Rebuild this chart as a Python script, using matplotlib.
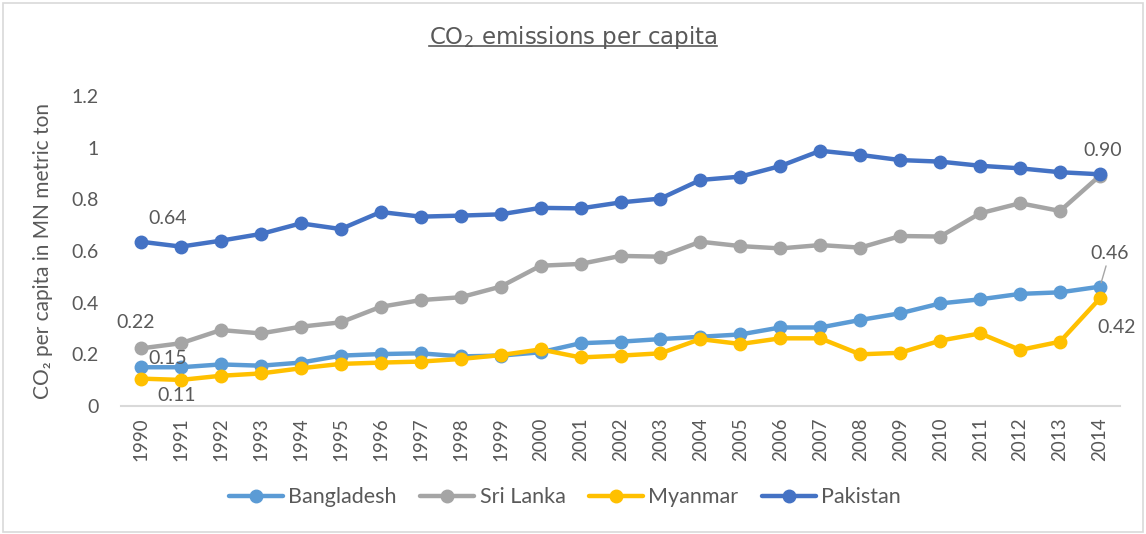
import matplotlib
matplotlib.use("Agg")
import matplotlib.pyplot as plt
from matplotlib.patches import Rectangle
from matplotlib.lines import Line2D

# data
years = list(range(1990, 2015))
bangladesh = [0.150, 0.150, 0.161, 0.156, 0.168, 0.195, 0.201, 0.204, 0.192, 0.195, 0.208,
              0.243, 0.249, 0.259, 0.268, 0.277, 0.304, 0.304, 0.333, 0.359, 0.397,
              0.413, 0.434, 0.440, 0.462]
sri_lanka = [0.223, 0.243, 0.294, 0.281, 0.307, 0.324, 0.384, 0.410, 0.421, 0.462, 0.543,
             0.550, 0.581, 0.578, 0.636, 0.619, 0.610, 0.623, 0.613, 0.658, 0.656,
             0.746, 0.785, 0.755, 0.892]
myanmar = [0.106, 0.101, 0.117, 0.126, 0.146, 0.163, 0.168, 0.172, 0.182, 0.197, 0.219,
           0.188, 0.195, 0.204, 0.259, 0.240, 0.262, 0.262, 0.200, 0.206, 0.253,
           0.281, 0.217, 0.249, 0.417]
pakistan = [0.636, 0.617, 0.640, 0.666, 0.707, 0.685, 0.751, 0.733, 0.737, 0.742, 0.767,
            0.765, 0.788, 0.803, 0.875, 0.888, 0.929, 0.988, 0.972, 0.952, 0.946,
            0.930, 0.920, 0.905, 0.897]
series_names = ["Bangladesh", "Sri Lanka", "Myanmar", "Pakistan"]
series_colors = ["#5B9BD5", "#A5A5A5", "#FFC000", "#4472C4"]
y_ticks = [0, 0.2, 0.4, 0.6, 0.8, 1.0, 1.2]
y_tick_labels = ["0", "0.2", "0.4", "0.6", "0.8", "1", "1.2"]

TXT = "#595959"
FONT = ["Lato", "DejaVu Sans"]
plt.rcParams["font.family"] = FONT
plt.rcParams["mathtext.fontset"] = "dejavusans"

fig = plt.figure(figsize=(11.46, 5.34), dpi=100)
ax = fig.add_axes([0.1056, 0.2397, 0.8717, 0.5805])

x = list(range(len(years)))
all_series = [bangladesh, sri_lanka, myanmar, pakistan]
for vals, name, col in zip(all_series, series_names, series_colors):
    ax.plot(x, vals, color=col, lw=3.2, marker="o", ms=9, label=name,
            solid_capstyle="round", solid_joinstyle="round")

ax.set_xlim(-0.5, len(years) - 0.5)
ax.set_ylim(0, 1.2)
ax.set_xticks(x)
ax.set_xticklabels([str(y) for y in years], rotation=90, fontsize=13.5, color=TXT)
ax.set_yticks(y_ticks)
ax.set_yticklabels(y_tick_labels, fontsize=14, color=TXT)
ax.tick_params(axis="x", length=0, pad=8)
ax.tick_params(axis="y", length=0, pad=16)
for s in ["top", "right", "left"]:
    ax.spines[s].set_visible(False)
ax.spines["bottom"].set_color("#D9D9D9")
ax.spines["bottom"].set_linewidth(1.5)

ax.set_ylabel("CO\u2082 per capita in MN metric ton", fontsize=15, color=TXT)
ax.yaxis.set_label_coords(-0.068, 0.5)

# data labels
lab = dict(fontsize=14, color=TXT, ha="center", va="center",
           textcoords="offset points")
ax.annotate(f"{pakistan[0]:.2f}", (0, pakistan[0]), xytext=(19, 17), **lab)
ax.annotate(f"{sri_lanka[0]:.2f}", (0, sri_lanka[0]), xytext=(-4, 19), **lab)
ax.annotate(f"{bangladesh[0]:.2f}", (0, bangladesh[0]), xytext=(19, 6), **lab)
ax.annotate(f"{myanmar[0]:.2f}", (0, myanmar[0]), xytext=(26, -12), **lab)
ax.annotate(f"{pakistan[-1]:.2f}", (x[-1], pakistan[-1]), xytext=(2, 17), **lab)
ax.annotate(f"{bangladesh[-1]:.2f}", (x[-1], bangladesh[-1]), xytext=(7, 24), **lab,
            arrowprops=dict(arrowstyle="-", color="#A6A6A6", lw=1, shrinkA=1, shrinkB=3))
ax.annotate(f"{myanmar[-1]:.2f}", (x[-1], myanmar[-1]), xytext=(12, -21), **lab)

leg = fig.legend(loc="center", bbox_to_anchor=(0.493, 0.069), ncol=4, frameon=False,
                 fontsize=15.5, handlelength=2.5, handletextpad=0.25, columnspacing=1.1)
for t in leg.get_texts():
    t.set_color(TXT)

title = fig.text(0.5, 0.918, r"CO$_2$ emissions per capita", ha="center", va="baseline",
                 fontsize=16.5, color=TXT, family=["DejaVu Sans"])

# underline the title
fig.canvas.draw()
bb = title.get_window_extent()
W, H = fig.bbox.width, fig.bbox.height
uy = (bb.y0 + 5) / H
fig.add_artist(Line2D([bb.x0 / W, bb.x1 / W], [uy, uy], color=TXT, lw=1.2))

# light border around the chart
fig.add_artist(Rectangle((0.003, 0.004), 0.994, 0.99, transform=fig.transFigure,
                         fill=False, edgecolor="#D9D9D9", lw=1.2))

fig.savefig("out.png", dpi=100)
